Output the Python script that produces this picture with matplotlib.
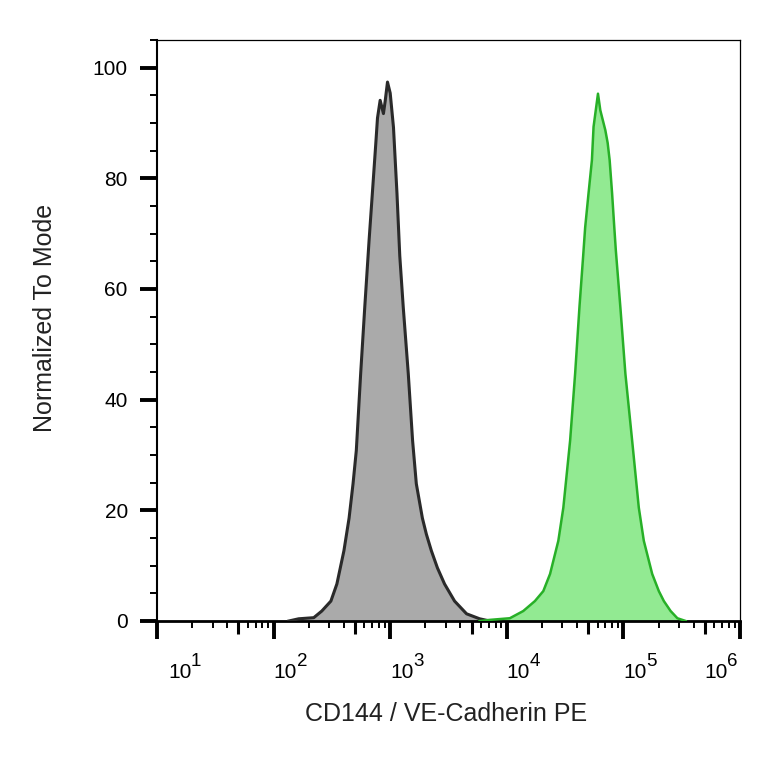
import math
import matplotlib
matplotlib.use('Agg')
import matplotlib.pyplot as plt
from matplotlib.ticker import FixedLocator, MultipleLocator, NullFormatter
from matplotlib.transforms import ScaledTranslation

plt.rcParams['font.family'] = ['Liberation Sans', 'DejaVu Sans']

# isotype control (grey), PE intensity vs % of mode
gray_x = [135, 164, 221, 259, 310, 349, 401, 444, 480, 512, 558, 605, 659, 703,
          753, 778, 820, 875, 906, 948, 1000, 1067, 1104, 1143, 1208, 1294, 1429,
          1556, 1675, 1888, 2042, 2254, 2541, 2924, 3565, 4519, 5848, 7129]
gray_y = [0.0, 0.4, 0.6, 1.8, 3.6, 6.7, 12.7, 18.6, 24.8, 30.8, 44.7, 56.7, 68.8, 77.3,
          86.4, 90.9, 94.1, 91.7, 94.0, 97.4, 95.4, 89.2, 83.3, 77.3, 66.0, 56.7, 44.7,
          32.6, 24.8, 18.6, 15.7, 12.7, 9.6, 6.7, 3.6, 1.3, 0.4, 0.0]

# CD144 stained cells (green)
green_x = [5848, 7129, 10617, 13836, 17418, 20559, 23496, 27669, 30549, 34914, 38548,
           41976, 45186, 46989, 50234, 53703, 55463, 60534, 63387, 69984, 73282, 76208,
           79983, 83560, 86099, 94189, 103992, 118850, 135519, 149624, 176604, 201372,
           222331, 254097, 290402, 341979]
green_y = [0.0, 0.2, 0.5, 1.8, 3.6, 5.4, 8.5, 14.5, 20.5, 32.6, 44.7,
           56.7, 66.0, 71.1, 77.3, 83.3, 89.3, 95.3, 92.3, 88.7, 86.4, 83.3,
           77.3, 71.1, 67.0, 56.7, 44.7, 32.6, 20.5, 14.5, 8.5, 5.4,
           3.6, 1.8, 0.5, 0.0]

decades = [1, 2, 3, 4, 5, 6]
y_major = [0, 20, 40, 60, 80, 100]

fig = plt.figure(figsize=(7.64, 7.64), dpi=100)
ax = fig.add_axes([157 / 764, 1 - 621 / 764, 583 / 764, 581 / 764])

ax.fill_between(gray_x, gray_y, 0, color='#aaaaaa', lw=0, zorder=2)
ax.plot(gray_x, gray_y, color='#2a2a2a', lw=2.2, zorder=3)
ax.fill_between(green_x, green_y, 0, color='#92ea92', lw=0, zorder=2)
ax.plot(green_x, green_y, color='#27b027', lw=1.8, zorder=3)

ax.set_xscale('log')
ax.set_xlim(10, 1e6)
ax.set_ylim(0, 105)

ax.xaxis.set_major_locator(FixedLocator([10.0 ** k for k in decades]))
ax.set_xticklabels(['10' for k in decades])
ax.xaxis.set_minor_locator(FixedLocator([m * 10.0 ** k for k in decades[:-1] for m in range(2, 10)]))
ax.xaxis.set_minor_formatter(NullFormatter())

ax.set_yticks(y_major)
ax.yaxis.set_minor_locator(MultipleLocator(5))

ax.tick_params(axis='x', which='major', direction='out', length=13, width=2.8,
               labelsize=15, pad=17)
ax.tick_params(axis='x', which='minor', direction='out', length=5, width=1.4)
ax.tick_params(axis='y', which='major', direction='out', length=12, width=2.8,
               labelsize=15, pad=9)
ax.tick_params(axis='y', which='minor', direction='out', length=5, width=1.4)

# medium ticks at 5 x 10^k
minor_locs = ax.xaxis.get_minorticklocs()
for loc, tick in zip(minor_locs, ax.xaxis.get_minor_ticks(len(minor_locs))):
    if abs(loc / 10 ** math.floor(math.log10(loc)) - 5) < 0.01:
        tick.tick1line.set_markersize(9)
        tick.tick1line.set_markeredgewidth(2.2)

# "10" labels start at the tick, ends pushed inside; exponents drawn next to them
label_dx = [11, 0, 0, 0, 0, -36]
labels = ax.get_xticklabels()
for lab, dx in zip(labels, label_dx):
    lab.set_horizontalalignment('left')
    lab.set_transform(lab.get_transform() + ScaledTranslation(dx / 100, 0, fig.dpi_scale_trans))

for k, dx in zip(decades, label_dx):
    ax.text(10.0 ** k, 0, str(k), fontsize=13.5, ha='left', va='baseline',
            transform=ax.get_xaxis_transform() + ScaledTranslation((dx + 23) / 100, -0.455, fig.dpi_scale_trans),
            clip_on=False)

for side in ['top', 'right']:
    ax.spines[side].set_linewidth(0.9)
ax.spines['left'].set_linewidth(1.5)
ax.spines['bottom'].set_linewidth(2.0)

fig.text(446 / 764, 1 - 714 / 764, 'CD144 / VE-Cadherin PE', fontsize=18,
         ha='center', va='center', color='#222222')
fig.text(45 / 764, 1 - 318 / 764, 'Normalized To Mode', fontsize=18, rotation=90,
         ha='center', va='center', color='#222222')

fig.savefig('out.png', dpi=100)
